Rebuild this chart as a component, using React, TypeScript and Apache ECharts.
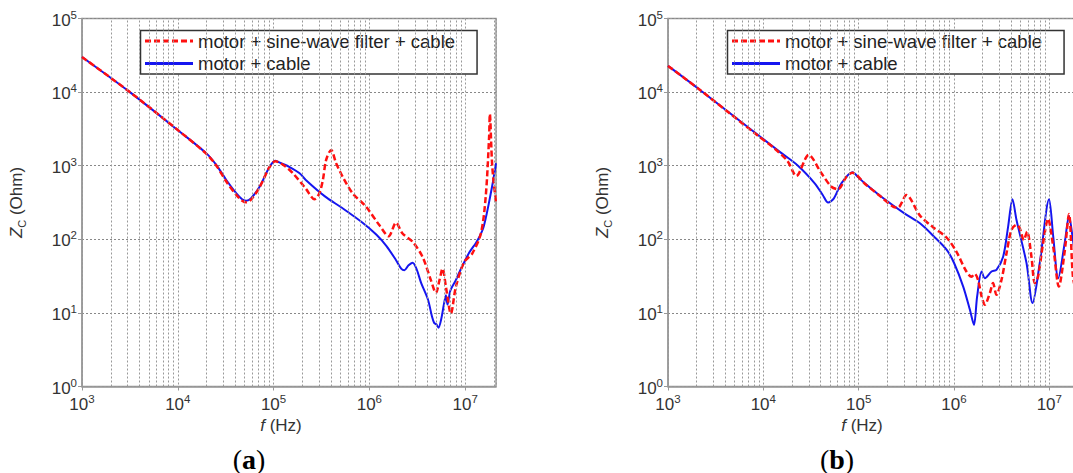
import React, { useEffect, useRef } from 'react';
import * as echarts from 'echarts';

const NAME_FILTER = 'motor + sine-wave filter + cable';
const NAME_CABLE = 'motor + cable';

const X_MIN = 1e3;
const X_MAX = 2.1e7;
const Y_MIN = 1;
const Y_MAX = 1e5;

const xTickExponents = [3, 4, 5, 6, 7];
const yTickExponents = [0, 1, 2, 3, 4, 5];

const minorGridHz = [
  2e3, 3e3, 4e3, 5e3, 6e3, 7e3, 8e3, 9e3,
  2e4, 3e4, 4e4, 5e4, 6e4, 7e4, 8e4, 9e4,
  2e5, 3e5, 4e5, 5e5, 6e5, 7e5, 8e5, 9e5,
  2e6, 3e6, 4e6, 5e6, 6e6, 7e6, 8e6, 9e6,
  2e7,
];

// (a) motor + cable
const aCable: [number, number][] = [
  [1e3, 30000], [3.16e3, 10000], [1.05e4, 2900], [1.99e4, 1470], [2.53e4, 1020],
  [3.21e4, 640], [4.09e4, 421], [4.7e4, 350], [5.2e4, 334], [5.8e4, 360],
  [7.15e4, 517], [9.08e4, 968], [1.04e5, 1170], [1.2e5, 1080], [1.47e5, 960],
  [1.87e5, 789], [2.17e5, 640], [3.41e5, 386], [5.17e5, 268], [8.5e5, 168],
  [1.18e6, 116], [1.51e6, 81], [1.9e6, 52], [2.15e6, 40], [2.32e6, 38],
  [2.55e6, 44], [2.83e6, 48], [3.1e6, 40], [3.47e6, 25.6], [4.09e6, 15.2],
  [4.5e6, 9], [4.75e6, 7.3], [5.0e6, 7.0], [5.27e6, 6.3], [5.6e6, 8],
  [6.0e6, 13], [6.3e6, 17.4], [6.54e6, 13], [7.0e6, 20], [8.0e6, 27.9],
  [8.98e6, 38.9], [1.1e7, 65.5], [1.3e7, 90], [1.42e7, 110], [1.54e7, 140],
  [1.65e7, 200], [1.77e7, 310], [1.95e7, 600], [2.1e7, 1080],
];

// (a) motor + sine-wave filter + cable
const aFilter: [number, number][] = [
  [1e3, 30000], [3.16e3, 10000], [1.05e4, 2900], [1.99e4, 1450], [2.53e4, 1000],
  [3.21e4, 610], [4.09e4, 400], [4.7e4, 335], [5.2e4, 318], [5.8e4, 345],
  [7.15e4, 510], [9.08e4, 960], [1.04e5, 1150], [1.3e5, 1000], [1.59e5, 790],
  [2.19e5, 480], [2.67e5, 350], [3.0e5, 420], [3.27e5, 640], [3.54e5, 1200],
  [3.99e5, 1640], [4.5e5, 1080], [5.27e5, 707], [6.7e5, 421], [9.24e5, 277],
  [1.27e6, 156], [1.59e6, 110], [1.9e6, 168], [2.22e6, 120], [2.83e6, 92.5],
  [3.59e6, 57.8], [4.39e6, 27.9], [4.95e6, 18.7], [5.4e6, 28], [5.81e6, 40],
  [6.3e6, 22.6], [7.1e6, 9.8], [8.0e6, 22.6], [9.77e6, 49], [1.19e7, 64.6],
  [1.46e7, 120], [1.64e7, 380], [1.78e7, 2480], [1.81e7, 5050], [1.92e7, 968],
  [2.1e7, 310],
];

// (b) motor + cable
const bCable: [number, number][] = [
  [1e3, 22700], [2.07e3, 11200], [8.8e3, 2610], [1.5e4, 1530], [2.31e4, 1000],
  [3.46e4, 577], [4.2e4, 400], [4.78e4, 315], [5.5e4, 360], [6.6e4, 577],
  [8.6e4, 813], [1.0e5, 690], [1.16e5, 577], [1.73e5, 379], [3.1e5, 220],
  [4.4e5, 165], [6.05e5, 112], [8.4e5, 72], [1.0e6, 48], [1.25e6, 22.8],
  [1.47e6, 11], [1.62e6, 6.9], [1.75e6, 16.7], [1.95e6, 36.5], [2.11e6, 29.6],
  [2.48e6, 36.5], [2.79e6, 38.5], [3.28e6, 58], [3.7e6, 149], [4.11e6, 350],
  [4.53e6, 183], [5.77e6, 47.4], [6.67e6, 13.6], [7.94e6, 47.4], [9.95e6, 350],
  [1.1e7, 109], [1.24e7, 29.6], [1.45e7, 88.5], [1.61e7, 208], [1.77e7, 98],
  [1.9e7, 50],
];

// (b) motor + sine-wave filter + cable
const bFilter: [number, number][] = [
  [1e3, 22700], [2.07e3, 11200], [8.8e3, 2550], [1.32e4, 1700], [1.8e4, 1150],
  [2.22e4, 724], [2.99e4, 1400], [4.07e4, 789], [5.18e4, 518], [6.08e4, 479],
  [7.45e4, 708], [8.6e4, 800], [1.16e5, 570], [1.73e5, 375], [2.3e5, 278],
  [2.59e5, 270], [3.17e5, 400], [4.4e5, 210], [6.07e5, 145], [8.4e5, 105],
  [1.06e6, 68], [1.35e6, 36.5], [1.53e6, 31], [1.65e6, 34], [1.79e6, 28],
  [1.95e6, 16.7], [2.11e6, 12.9], [2.38e6, 18.6], [2.57e6, 25.4], [2.79e6, 17.6],
  [3.15e6, 28], [3.56e6, 64.7], [4.01e6, 134], [4.53e6, 157], [4.9e6, 141],
  [5.4e6, 98], [5.85e6, 127], [6.5e6, 58], [7.05e6, 25.4], [7.63e6, 31.2],
  [8.61e6, 88.5], [9.7e6, 190], [1.1e7, 79], [1.26e7, 22.8], [1.45e7, 68],
  [1.61e7, 220], [1.77e7, 31], [1.9e7, 20],
];

const FONT = '"Liberation Sans", Arial, Helvetica, sans-serif';
const SERIF = '"Liberation Serif", "Times New Roman", serif';
const TXT = '#333';

const supRich = {
  b: { fontSize: 17, lineHeight: 20, verticalAlign: 'bottom', fontFamily: FONT, color: TXT },
  s: { fontSize: 11.5, lineHeight: 12, verticalAlign: 'top', fontFamily: FONT, color: TXT },
};

function makeLabel(exps: number[]) {
  return (v: number) => {
    const e = Math.log10(v);
    const r = Math.round(e);
    if (Math.abs(e - r) > 1e-6 || exps.indexOf(r) < 0) return '';
    return `{b|10}{s|${r}}`;
  };
}

function makeXAxis(gridIndex: number, padRight: number) {
  return {
    type: 'log',
    gridIndex,
    logBase: 10,
    min: X_MIN,
    max: X_MAX,
    name: '{i|f} (Hz)',
    nameLocation: 'middle',
    nameGap: 26,
    nameTextStyle: {
      fontFamily: FONT, fontSize: 17, color: TXT, padding: [0, padRight, 0, 0],
      rich: { i: { fontStyle: 'italic', fontSize: 17, fontFamily: FONT, color: TXT } },
    },
    axisLine: { show: true, lineStyle: { color: '#999', width: 1.5 } },
    axisTick: { show: true, length: 4, lineStyle: { color: '#999' } },
    axisLabel: { margin: 6, formatter: makeLabel(xTickExponents), rich: supRich, showMaxLabel: false },
    splitLine: { show: true, lineStyle: { color: '#999', type: [2, 2], width: 1 } },
  };
}

function makeYAxis(gridIndex: number) {
  return {
    type: 'log',
    gridIndex,
    logBase: 10,
    min: Y_MIN,
    max: Y_MAX,
    name: '{i|Z}{sub|C} (Ohm)',
    nameLocation: 'middle',
    nameGap: 55,
    nameTextStyle: {
      fontFamily: FONT, fontSize: 17, color: TXT,
      rich: {
        i: { fontStyle: 'italic', fontSize: 17, fontFamily: FONT, color: TXT, lineHeight: 21, verticalAlign: 'middle' },
        sub: { fontSize: 11, fontFamily: FONT, color: TXT, lineHeight: 11, verticalAlign: 'bottom' },
      },
    },
    axisLine: { show: true, lineStyle: { color: '#999', width: 1.5 } },
    axisTick: { show: true, length: 4, lineStyle: { color: '#999' } },
    axisLabel: { margin: 5, formatter: makeLabel(yTickExponents), rich: supRich },
    splitLine: { show: true, lineStyle: { color: '#888', type: [2, 2], width: 1 } },
  };
}

function curve(name: string, data: [number, number][], idx: number, dashed: boolean) {
  return {
    type: 'line',
    name,
    xAxisIndex: idx,
    yAxisIndex: idx,
    data,
    symbol: 'none',
    showSymbol: false,
    smooth: 0.3,
    z: dashed ? 4 : 3,
    lineStyle: dashed
      ? { color: '#ff1010', width: 2.5, type: [6, 3] }
      : { color: '#1515f0', width: 2 },
    itemStyle: { color: dashed ? '#ff1010' : '#1515f0' },
    emphasis: { disabled: true },
  };
}

function gridLines(idx: number) {
  return {
    type: 'line',
    name: 'minor-grid-' + idx,
    xAxisIndex: idx,
    yAxisIndex: idx,
    data: [],
    z: 1,
    silent: true,
    markLine: {
      silent: true,
      animation: false,
      symbol: ['none', 'none'],
      label: { show: false },
      emphasis: { disabled: true },
      lineStyle: { color: '#999', type: [2, 2], width: 1 },
      data: minorGridHz.map((v) => ({ xAxis: v })),
    },
  };
}

function makeLegend(left: number) {
  return {
    left,
    top: 30.5,
    orient: 'vertical',
    data: [NAME_FILTER, NAME_CABLE],
    backgroundColor: '#fff',
    borderColor: '#333',
    borderWidth: 1.5,
    padding: [1, 22, 1, 3],
    itemGap: 3.5,
    itemWidth: 48,
    itemHeight: 14,
    selectedMode: false,
    itemStyle: { opacity: 0, color: 'transparent', borderColor: 'transparent', borderWidth: 0 },
    lineStyle: { width: 3 },
    textStyle: { fontFamily: FONT, fontSize: 18.5, color: '#222', lineHeight: 19 },
  };
}

export default function App() {
  const ref = useRef<HTMLDivElement>(null);
  useEffect(() => {
    document.body.style.margin = '0';
    document.body.style.overflow = 'hidden';
    if (!ref.current) return;
    const chart = echarts.init(ref.current, undefined, { renderer: 'svg' });
    const labelRich = (letter: string) => ({
      text: `{p|(}{b|${letter}}{p|)}`,
      align: 'center',
      verticalAlign: 'middle',
      rich: {
        p: { fontFamily: SERIF, fontSize: 28, fill: '#000' },
        b: { fontFamily: SERIF, fontSize: 28, fontWeight: 'bold', fill: '#000' },
      },
    });
    chart.setOption({
      animation: false,
      backgroundColor: '#fff',
      grid: [
        { left: 82, top: 18.5, width: 414, height: 368, show: true, borderColor: '#999', borderWidth: 1.5, backgroundColor: 'transparent' },
        { left: 668, top: 18.5, width: 412, height: 368, show: true, borderColor: '#999', borderWidth: 1.5, backgroundColor: 'transparent' },
      ],
      xAxis: [makeXAxis(0, 16), makeXAxis(1, 24)],
      yAxis: [makeYAxis(0), makeYAxis(1)],
      legend: [makeLegend(140.5), makeLegend(727.5)],
      series: [
        gridLines(0),
        gridLines(1),
        curve(NAME_CABLE, aCable, 0, false),
        curve(NAME_FILTER, aFilter, 0, true),
        curve(NAME_CABLE, bCable, 1, false),
        curve(NAME_FILTER, bFilter, 1, true),
      ],
      graphic: [
        { type: 'text', style: { ...labelRich('a'), x: 249, y: 459 } },
        { type: 'text', style: { ...labelRich('b'), x: 837, y: 459 } },
      ],
    });
    return () => chart.dispose();
  }, []);
  return (
    <div style={{ position: 'absolute', left: 0, top: 0, width: 1073, height: 473, overflow: 'hidden', background: '#fff' }}>
      <div ref={ref} style={{ width: 1090, height: 473 }} />
    </div>
  );
}
